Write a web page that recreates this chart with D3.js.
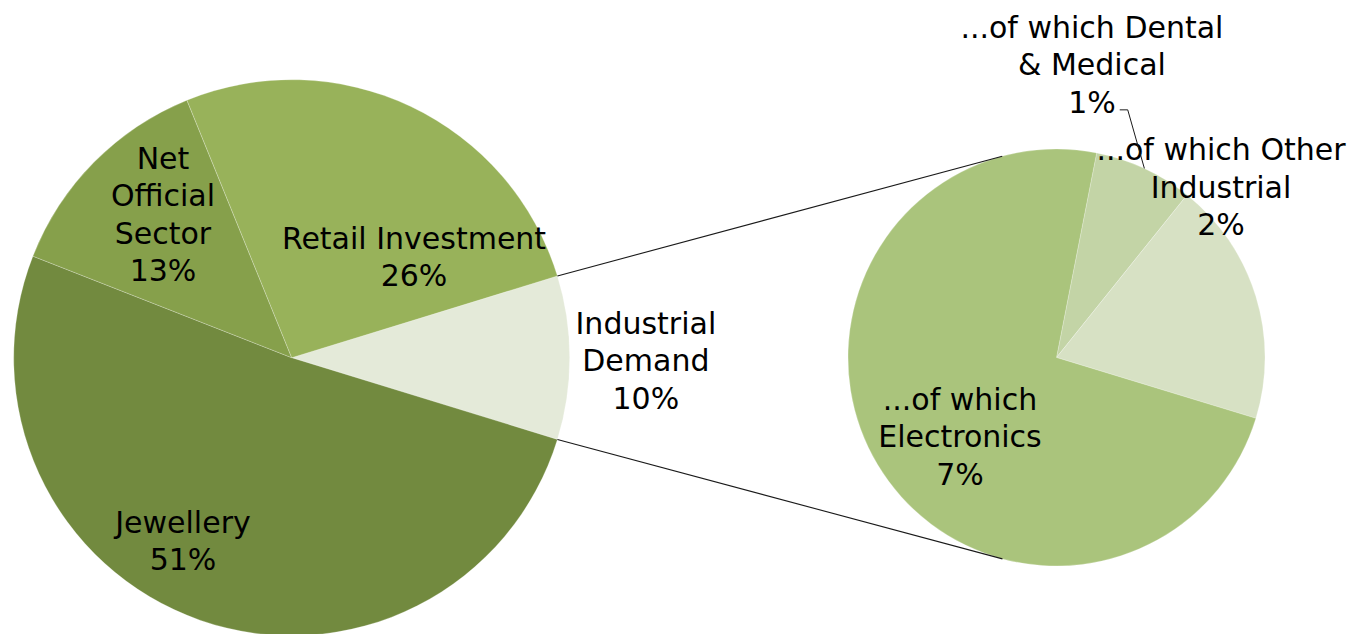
<!DOCTYPE html>
<html>
<head>
<meta charset="utf-8">
<script src="https://cdn.jsdelivr.net/npm/d3@7"></script>
<style>
  body { margin: 0; background: #fff; }
  svg text { font-family: "DejaVu Sans", sans-serif; font-size: 30px; fill: #000; }
</style>
</head>
<body>
<svg id="chart" width="1356" height="634"></svg>
<script>
// Gold demand breakdown (share of total, %)
const mainCategories = ["Industrial Demand", "Jewellery", "Net Official Sector", "Retail Investment"];
const mainValues = [9.5, 51.2, 12.9, 26.4];
const mainColors = ["#e4ead9", "#728a3f", "#86a04b", "#98b25a"];
const mainLabelLines = [["Industrial", "Demand"], ["Jewellery"], ["Net", "Official", "Sector"], ["Retail Investment"]];

// Industrial demand split
const subCategories = ["Dental & Medical", "Other Industrial", "Electronics"];
const subValues = [0.73, 1.8, 6.97];
const subColors = ["#c3d4a6", "#d7e1c4", "#aac47c"];
const subLabelLines = [["...of which Dental", "& Medical"], ["...of which Other", "Industrial"], ["...of which", "Electronics"]];

// label block centres, relative to each pie centre in radius units
const mainLabelPos = [[1.274, 0.009], [-0.391, 0.659], [-0.463, -0.517], [0.44, -0.364]];
const subLabelPos = [[0.170, -1.406], [0.789, -0.819], [-0.463, 0.378]];

const svg = d3.select("#chart");
const lineH = 37.5;
const pct = v => Math.round(v) + "%";

const main = { cx: 291.7, cy: 357.7, r: 278 };
const sub = { cx: 1056.5, cy: 357.5, r: 208.5 };

// the split-out slice sits centred on the right-hand side of the main pie
const mainTotal = d3.sum(mainValues);
const mainStart = Math.PI / 2 - Math.PI * mainValues[0] / mainTotal;
const mainArcs = d3.pie().sort(null).value(d => d)
  .startAngle(mainStart).endAngle(mainStart + 2 * Math.PI)(mainValues);

const subStart = 11.1 * Math.PI / 180;
const subArcs = d3.pie().sort(null).value(d => d)
  .startAngle(subStart).endAngle(subStart + 2 * Math.PI)(subValues);

function drawPie(p, arcs, colors) {
  const g = svg.append("g").attr("transform", `translate(${p.cx},${p.cy})`);
  const arc = d3.arc().innerRadius(0).outerRadius(p.r);
  g.selectAll("path").data(arcs).join("path")
    .attr("d", arc)
    .attr("fill", (d, i) => colors[i])
    .attr("stroke", "#ffffff")
    .attr("stroke-opacity", 0.35)
    .attr("stroke-width", 0.7);
  return g;
}

// connector lines: from the edges of the split slice, tangent to the secondary pie
function edgePoint(p, a) {
  return [p.cx + p.r * Math.sin(a), p.cy - p.r * Math.cos(a)];
}
function tangentPoint(P, c, pickTop) {
  const dx = P[0] - c.cx, dy = P[1] - c.cy;
  const d = Math.hypot(dx, dy);
  const t = Math.acos(c.r / d);
  const base = Math.atan2(dy, dx);
  const cands = [base + t, base - t].map(a => [c.cx + c.r * Math.cos(a), c.cy + c.r * Math.sin(a)]);
  return cands.sort((u, v) => pickTop ? u[1] - v[1] : v[1] - u[1])[0];
}
const upper = edgePoint(main, mainArcs[0].startAngle);
const lower = edgePoint(main, mainArcs[0].endAngle);
const connectors = [[upper, tangentPoint(upper, sub, true)], [lower, tangentPoint(lower, sub, false)]];

drawPie(main, mainArcs, mainColors);
drawPie(sub, subArcs, subColors);

svg.append("g").selectAll("line").data(connectors).join("line")
  .attr("x1", d => d[0][0]).attr("y1", d => d[0][1])
  .attr("x2", d => d[1][0]).attr("y2", d => d[1][1])
  .attr("stroke", "#1a1a1a").attr("stroke-width", 1.1);

function drawLabels(p, values, lines, pos) {
  return values.map((v, i) => {
    const all = lines[i].concat([pct(v)]);
    const x = p.cx + pos[i][0] * p.r;
    const yc = p.cy + pos[i][1] * p.r;
    const y0 = yc - (all.length - 1) * lineH / 2;
    const g = svg.append("g");
    const nodes = all.map((s, k) => g.append("text")
      .attr("x", x).attr("y", y0 + k * lineH)
      .attr("dy", "0.36em")
      .attr("text-anchor", "middle")
      .text(s));
    return nodes;
  });
}

drawLabels(main, mainValues, mainLabelLines, mainLabelPos);
const subTexts = drawLabels(sub, subValues, subLabelLines, subLabelPos);

// leader from the Dental & Medical label to its slice
const dentalPct = subTexts[0][subTexts[0].length - 1].node().getBBox();
const dentalMid = (subArcs[0].startAngle + subArcs[0].endAngle) / 2;
const target = edgePoint(sub, dentalMid);
const hookY = dentalPct.y + dentalPct.height * 0.72;
const hx = dentalPct.x + dentalPct.width + 4;
svg.append("path")
  .attr("d", `M${hx},${hookY}H${hx + 8}L${target[0]},${target[1]}`)
  .attr("fill", "none")
  .attr("stroke", "#1a1a1a")
  .attr("stroke-width", 1);
</script>
</body>
</html>
